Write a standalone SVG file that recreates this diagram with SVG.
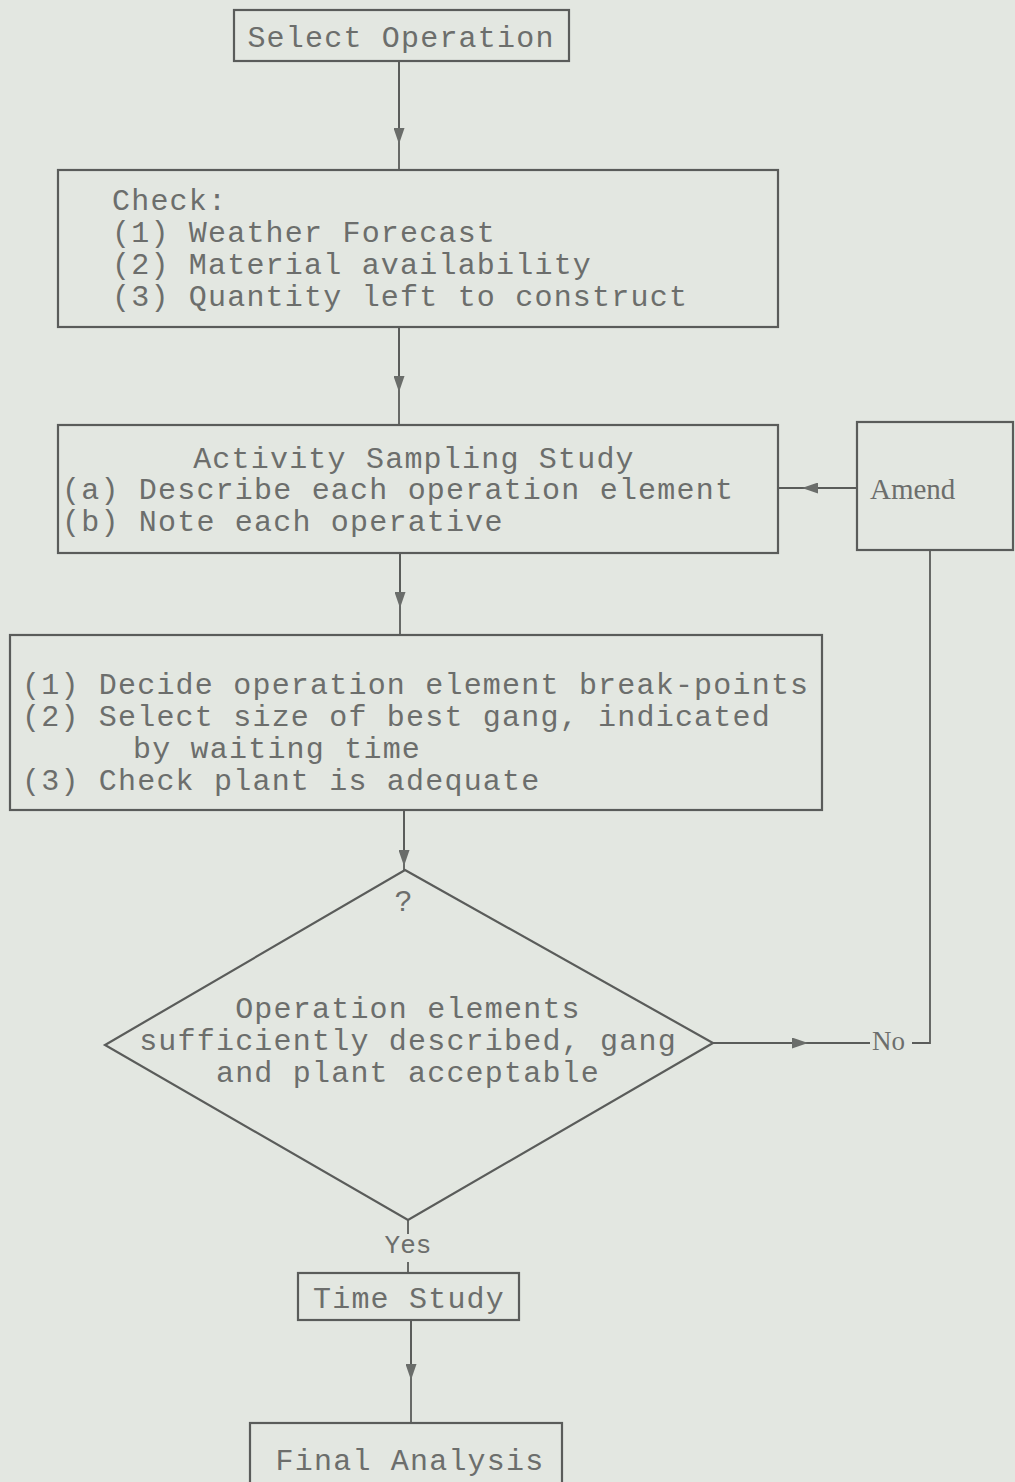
<svg xmlns="http://www.w3.org/2000/svg" width="1015" height="1482" viewBox="0 0 1015 1482">
  <defs>
    <marker id="tri" viewBox="0 0 16 11" refX="8" refY="5.5" markerWidth="16" markerHeight="11" markerUnits="userSpaceOnUse" orient="auto">
      <path d="M0,0 L16,5.5 L0,11 Z" fill="#6a6d6a"/>
    </marker>
    <style>
      .box { fill: none; stroke: #5a5c5a; stroke-width: 2.2; }
      .ln { fill: none; stroke: #5a5c5a; stroke-width: 1.8; }
      .t { font-family: "Liberation Mono", "Courier New", monospace; font-size: 30px; letter-spacing: 1.2px; fill: #6c6e6c; }
      .c { text-anchor: middle; }
      .s { font-family: "Liberation Serif", "Times New Roman", serif; letter-spacing: 0; }
    </style>
  </defs>

  <rect x="0" y="0" width="1015" height="1482" fill="#e3e7e1"/>

  <!-- connectors -->
  <g id="connectors">
    <path class="ln" d="M399,61 V170"/>
    <path class="ln" d="M399,61 V136" marker-end="url(#tri)"/>
    <path class="ln" d="M399,327 V425"/>
    <path class="ln" d="M399,327 V384" marker-end="url(#tri)"/>
    <path class="ln" d="M400,553 V635"/>
    <path class="ln" d="M400,553 V600" marker-end="url(#tri)"/>
    <path class="ln" d="M404,810 V870"/>
    <path class="ln" d="M404,810 V858" marker-end="url(#tri)"/>
    <!-- Amend back into the sampling study -->
    <path class="ln" d="M857,488 H778"/>
    <path class="ln" d="M857,488 H810" marker-end="url(#tri)"/>
    <!-- No branch -->
    <path class="ln" d="M713,1043 H870"/>
    <path class="ln" d="M713,1043 H800" marker-end="url(#tri)"/>
    <path class="ln" d="M912,1043 H930 V550"/>
    <text class="t s" x="872" y="1050" style="font-size:27px">No</text>
    <!-- Yes branch -->
    <path class="ln" d="M408,1220 V1234"/>
    <path class="ln" d="M408,1262 V1273"/>
    <text class="t c" x="408" y="1253" style="font-size:26px;letter-spacing:0">Yes</text>
    <path class="ln" d="M411,1320 V1423"/>
    <path class="ln" d="M411,1320 V1372" marker-end="url(#tri)"/>
  </g>

  <g id="select-operation">
    <rect class="box" x="234" y="10" width="335" height="51"/>
    <text class="t c" x="401" y="47">Select Operation</text>
  </g>

  <g id="check">
    <rect class="box" x="58" y="170" width="720" height="157"/>
    <text class="t" x="112" y="210">Check:</text>
    <text class="t" x="112" y="242">(1) Weather Forecast</text>
    <text class="t" x="112" y="274">(2) Material availability</text>
    <text class="t" x="112" y="306">(3) Quantity left to construct</text>
  </g>

  <g id="activity-sampling">
    <rect class="box" x="58" y="425" width="720" height="128"/>
    <text class="t c" x="414" y="468">Activity Sampling Study</text>
    <text class="t" x="62" y="499">(a) Describe each operation element</text>
    <text class="t" x="62" y="531">(b) Note each operative</text>
  </g>

  <g id="amend">
    <rect class="box" x="857" y="422" width="156" height="128"/>
    <text class="t s" x="870" y="499" style="font-size:29px">Amend</text>
  </g>

  <g id="decide">
    <rect class="box" x="10" y="635" width="812" height="175"/>
    <text class="t" x="22" y="694">(1) Decide operation element break-points</text>
    <text class="t" x="22" y="726">(2) Select size of best gang, indicated</text>
    <text class="t" x="133" y="758">by waiting time</text>
    <text class="t" x="22" y="790">(3) Check plant is adequate</text>
  </g>

  <g id="decision">
    <path class="box" d="M405,870 L713,1043 L408,1220 L105,1045 Z"/>
    <text class="t c" x="404" y="911">?</text>
    <text class="t c" x="408" y="1018">Operation elements</text>
    <text class="t c" x="408" y="1050">sufficiently described, gang</text>
    <text class="t c" x="408" y="1082">and plant acceptable</text>
  </g>

  <g id="time-study">
    <rect class="box" x="298" y="1273" width="221" height="47"/>
    <text class="t c" x="409" y="1308">Time Study</text>
  </g>

  <g id="final-analysis">
    <rect class="box" x="250" y="1423" width="312" height="80"/>
    <text class="t c" x="410" y="1470">Final Analysis</text>
  </g>
</svg>
